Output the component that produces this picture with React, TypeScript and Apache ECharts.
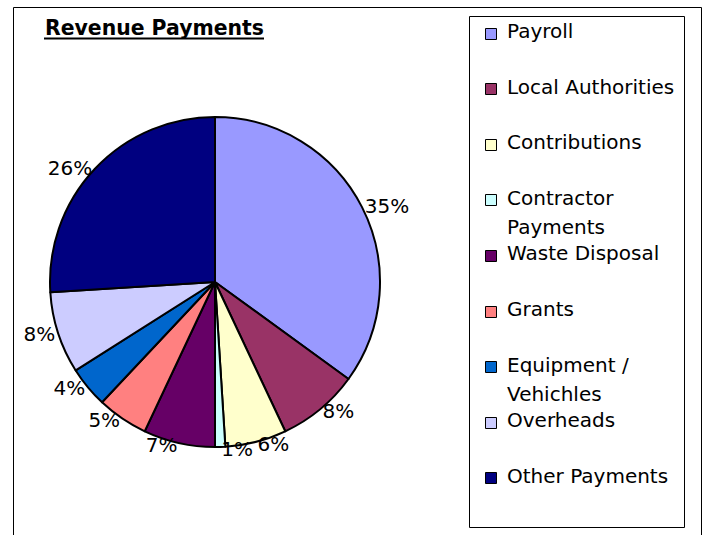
import React, { useEffect, useRef } from 'react';
import * as echarts from 'echarts';

const categories = [
  'Payroll',
  'Local Authorities',
  'Contributions',
  'Contractor Payments',
  'Waste Disposal',
  'Grants',
  'Equipment / Vehichles',
  'Overheads',
  'Other Payments',
];
const legendLines = [
  ['Payroll'],
  ['Local Authorities'],
  ['Contributions'],
  ['Contractor', 'Payments'],
  ['Waste Disposal'],
  ['Grants'],
  ['Equipment /', 'Vehichles'],
  ['Overheads'],
  ['Other Payments'],
];
const shares = [35, 8, 6, 1, 7, 5, 4, 8, 26];
const colors = ['#9999FF', '#993366', '#FFFFCC', '#CCFFFF', '#660066', '#FF8080', '#0066CC', '#CCCCFF', '#000080'];
const titleText = 'Revenue Payments';

const FONT = '"DejaVu Sans", "Liberation Sans", Arial, sans-serif';

export default function App() {
  const ref = useRef<HTMLDivElement>(null);
  useEffect(() => {
    document.body.style.margin = '0';
    const chart = echarts.init(ref.current!, null, { renderer: 'svg' });
    const legendGraphics: any[] = [];
    categories.forEach((name, i) => {
      const cy = 33 + i * 55.6;
      legendGraphics.push({
        type: 'rect',
        shape: { x: 485.5, y: Math.round(cy - 5.5) + 0.5, width: 11, height: 11 },
        style: { fill: colors[i], stroke: '#000', lineWidth: 1 },
        silent: true,
      });
      legendGraphics.push({
        type: 'text',
        x: 507,
        y: cy - 2 - 14.5,
        style: {
          text: legendLines[i].join('\n'),
          font: `20px ${FONT}`,
          fill: '#000',
          lineHeight: 29,
          verticalAlign: 'top',
          align: 'left',
        },
        silent: true,
      });
    });
    chart.setOption({
      animation: false,
      backgroundColor: '#fff',
      graphic: [
        {
          type: 'rect',
          shape: { x: 13.5, y: 7.5, width: 688, height: 540 },
          style: { fill: 'none', stroke: '#000', lineWidth: 1 },
          silent: true,
        },
        {
          type: 'rect',
          shape: { x: 469.5, y: 16.5, width: 215, height: 511 },
          style: { fill: 'none', stroke: '#000', lineWidth: 1 },
          silent: true,
        },
        {
          type: 'text',
          x: 45,
          y: 28,
          style: {
            text: titleText,
            font: `bold 20.4px ${FONT}`,
            fill: '#000',
            verticalAlign: 'middle',
            align: 'left',
          },
          silent: true,
        },
        {
          type: 'line',
          shape: { x1: 44, y1: 38.5, x2: 264, y2: 38.5 },
          style: { stroke: '#000', lineWidth: 2 },
          silent: true,
        },
        ...legendGraphics,
      ],
      series: [
        {
          type: 'pie',
          center: [215, 282],
          radius: 165,
          startAngle: 90,
          clockwise: true,
          avoidLabelOverlap: false,
          data: categories.map((name, i) => ({
            name,
            value: shares[i],
            itemStyle: { color: colors[i] },
          })),
          itemStyle: { borderColor: '#000', borderWidth: 2 },
          label: {
            show: true,
            position: 'outside',
            formatter: (p: any) => `${p.value}%`,
            fontFamily: FONT,
            fontSize: 20,
            color: '#000',
            distanceToLabelLine: 1,
          },
          labelLine: { show: false, length: 2, length2: 0 },
          emphasis: { disabled: true },
        },
      ],
    });
    return () => chart.dispose();
  }, []);
  return (
    <div
      ref={ref}
      style={{ position: 'absolute', left: 0, top: 0, width: 707, height: 535 }}
    />
  );
}
